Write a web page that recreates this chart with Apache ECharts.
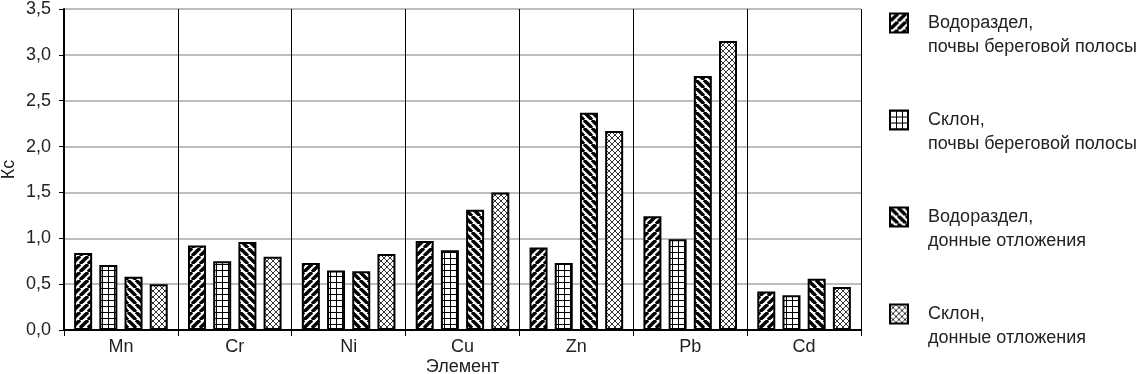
<!DOCTYPE html>
<html>
<head>
<meta charset="utf-8">
<script src="https://cdn.jsdelivr.net/npm/echarts@6/dist/echarts.min.js"></script>
<style>
html,body{margin:0;padding:0;background:#fff;}
#chart{width:1137px;height:374px;}
</style>
</head>
<body>
<div id="chart"></div>
<script>
const categories = ['Mn', 'Cr', 'Ni', 'Cu', 'Zn', 'Pb', 'Cd'];
const seriesNames = [
  'Водораздел,\nпочвы береговой полосы',
  'Склон,\nпочвы береговой полосы',
  'Водораздел,\nдонные отложения',
  'Склон,\nдонные отложения'
];
const vodorazdelSoil = [0.84, 0.92, 0.73, 0.97, 0.90, 1.24, 0.42];
const sklonSoil      = [0.71, 0.75, 0.65, 0.87, 0.73, 0.99, 0.38];
const vodorazdelSed  = [0.58, 0.96, 0.64, 1.31, 2.37, 2.77, 0.56];
const sklonSed       = [0.50, 0.80, 0.83, 1.50, 2.17, 3.15, 0.47];
const yTicks = { min: 0, max: 3.5, interval: 0.5 };
const axisNames = { x: 'Элемент', y: 'Кс' };

function makeTile(size, draw) {
  const c = document.createElement('canvas');
  c.width = size; c.height = size;
  const g = c.getContext('2d');
  g.fillStyle = '#fff';
  g.fillRect(0, 0, size, size);
  draw(g, size);
  return c;
}
function stripes(forward) {
  return makeTile(8, (g, s) => {
    g.strokeStyle = '#000';
    g.lineWidth = 3.4;
    for (let k = -s; k <= s; k += s) {
      g.beginPath();
      if (forward) { g.moveTo(k, s); g.lineTo(k + s, 0); }
      else { g.moveTo(k, 0); g.lineTo(k + s, s); }
      g.stroke();
    }
  });
}
const gridTile = makeTile(6, (g, s) => {
  g.fillStyle = '#000';
  g.fillRect(0, 0, s, 1);
  g.fillRect(0, 0, 1, s);
});
const crossTile = makeTile(6, (g, s) => {
  g.strokeStyle = '#333';
  g.lineWidth = 1;
  for (let k = -s; k <= s; k += s) {
    g.beginPath(); g.moveTo(k, s); g.lineTo(k + s, 0); g.stroke();
    g.beginPath(); g.moveTo(k, 0); g.lineTo(k + s, s); g.stroke();
  }
});
const fills = [stripes(true), gridTile, stripes(false), crossTile];
const dataSets = [vodorazdelSoil, sklonSoil, vodorazdelSed, sklonSed];

const FONT = '"Liberation Sans", Arial, sans-serif';
const chart = echarts.init(document.getElementById('chart'), null, { renderer: 'canvas' });
chart.setOption({
  animation: false,
  backgroundColor: '#fff',
  textStyle: { fontFamily: FONT },
  grid: { left: 64, top: 9, right: 276, bottom: 44, containLabel: false, outerBoundsMode: 'none' },
  legend: {
    orient: 'vertical',
    left: 889,
    top: -13,
    padding: 0,
    itemGap: 25,
    itemWidth: 18,
    itemHeight: 19,
    icon: 'rect',
    selectedMode: false,
    formatter: name => '\n' + name,
    textStyle: {
      fontFamily: FONT, fontSize: 18, color: '#222', lineHeight: 24,
      padding: [0, 0, 0, 15]
    },
    data: seriesNames
  },
  xAxis: {
    type: 'category',
    data: categories,
    name: axisNames.x,
    nameLocation: 'middle',
    nameGap: 28,
    nameMoveOverlap: false,
    nameTextStyle: { fontFamily: FONT, fontSize: 18, color: '#222', verticalAlign: 'top' },
    axisLine: { lineStyle: { color: '#000', width: 2 } },
    axisTick: { show: true, length: 6, lineStyle: { color: '#000', width: 1 } },
    axisLabel: { fontFamily: FONT, fontSize: 18, color: '#222', margin: 8 },
    splitLine: { show: true, lineStyle: { color: '#000', width: 1 } }
  },
  yAxis: {
    type: 'value',
    min: yTicks.min, max: yTicks.max, interval: yTicks.interval,
    name: axisNames.y,
    nameLocation: 'middle',
    nameGap: 46,
    nameMoveOverlap: false,
    nameTextStyle: { fontFamily: FONT, fontSize: 18, color: '#222' },
    axisLine: { show: true, lineStyle: { color: '#000', width: 2 } },
    axisTick: { show: true, length: 5, lineStyle: { color: '#000', width: 1 } },
    axisLabel: {
      fontFamily: FONT, fontSize: 18, color: '#222', margin: 13,
      formatter: v => v.toFixed(1).replace('.', ',')
    },
    splitLine: { show: true, lineStyle: { color: '#bdbdbd', width: 2 } }
  },
  series: seriesNames.map((name, i) => ({
    name,
    type: 'bar',
    data: dataSets[i],
    barWidth: 18,
    barGap: '40%',
    itemStyle: {
      color: { image: fills[i], repeat: 'repeat' },
      borderColor: '#000',
      borderWidth: 2
    }
  }))
});
</script>
</body>
</html>
